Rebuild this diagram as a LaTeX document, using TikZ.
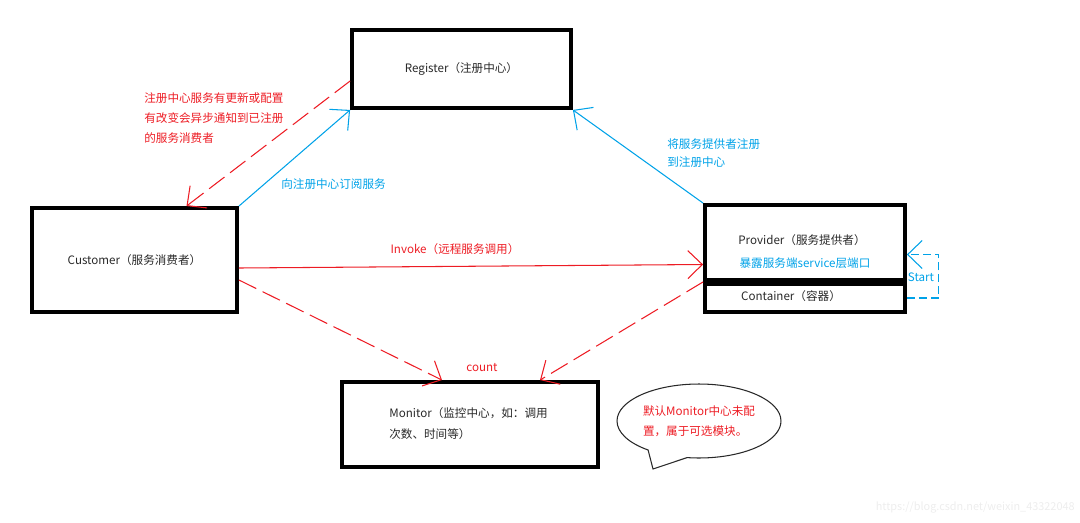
\documentclass[tikz,border=0pt]{standalone}
\usepackage{fontspec}
\setmainfont{Noto Sans CJK SC}
\usetikzlibrary{arrows.meta,calc,shapes.callouts}
\definecolor{paintred}{RGB}{237,28,36}
\definecolor{paintblue}{RGB}{0,162,232}
\definecolor{inkgray}{RGB}{40,40,40}

\begin{document}
\begin{tikzpicture}[x=0.02cm,y=-0.02cm,
  box/.style={draw,line width=2.2pt,inner sep=0pt,text=inkgray,font=\fontsize{6.6}{11.5}\selectfont},
  txt/.style={inner sep=0pt,font=\fontsize{6.6}{11.5}\selectfont},
  barb/.style={-{Straight Barb[length=2.9mm,width=5.6mm]}},
  subline/.style={paintblue,line width=0.6pt,barb},
  pushline/.style={paintred,line width=0.6pt,dash pattern=on 11pt off 4pt,barb},
  callline/.style={paintred,line width=0.6pt,barb},
  startline/.style={paintblue,line width=0.6pt,dash pattern=on 4.5pt off 2.3pt,barb}]
\useasboundingbox (0,0) rectangle (1080,522);
\node[box,minimum width=4.38cm,minimum height=1.56cm] (reg) at (461.5,69) {Register（注册中心）};
\node[box,minimum width=4.1cm,minimum height=2.08cm] (cust) at (134.5,260) {Customer（服务消费者）};
\node[box,minimum width=4cm,minimum height=1.5cm] (prov) at (805,242.5) {};
\node[box,minimum width=4cm,minimum height=0.56cm] (cont) at (805,298) {};
\node[box,minimum width=5.12cm,minimum height=1.7cm] (mon) at (470,424.5) {};
\node[txt,text=inkgray] (provtxt) at (802,240) {Provider（服务提供者）};
\node[txt,text=paintblue] (exposetxt) at (805,263) {暴露服务端service层端口};
\node[txt,text=inkgray] (conttxt) at (791,296) {Container（容器）};
\node[txt,text=inkgray,anchor=west,align=left,font=\fontsize{6.6}{11.9}\selectfont] (montxt) at (389,423.5) {Monitor（监控中心，如：调用\\次数、时间等）};
\node[ellipse callout,draw=inkgray,line width=0.6pt,minimum width=3.28cm,minimum height=1.48cm,
  inner sep=0pt,callout absolute pointer={(653,469)},callout pointer arc=30,
  txt,text=paintred,align=left] (remark) at (699,421) {默认Monitor中心未配\\置，属于可选模块。};
\draw[subline] (cust.north east) -- (reg.south west);
\draw[subline] (prov.north west) -- (reg.south east);
\draw[pushline] ($(reg.west)+(0,12)$) -- ($(cust.north)+(52,0)$);
\draw[callline] ($(cust.east)+(0,8)$) -- ($(prov.west)+(0,22)$);
\draw[pushline] ($(cust.east)+(0,20)$) -- ($(mon.north)+(-28,0)$);
\draw[pushline] (prov.south west) -- ($(mon.north)+(70,0)$);
\draw[startline] (cont.east) -- ++(32,0) |- ($(prov.east)+(0,12)$);
\node[txt,text=paintred,anchor=west,align=left] (notifylbl) at (144,118) {注册中心服务有更新或配置\\有改变会异步通知到已注册\\的服务消费者};
\node[txt,text=paintblue,anchor=west] (sublbl) at (281,184) {向注册中心订阅服务};
\node[txt,text=paintblue,anchor=west,align=left,font=\fontsize{6.6}{10.2}\selectfont] (reglbl) at (667,153) {将服务提供者注册\\到注册中心};
\node[txt,text=paintred] (invokelbl) at (455,249) {Invoke（远程服务调用）};
\node[txt,text=paintred] (countlbl) at (482,368) {count};
\node[txt,text=paintblue] (startlbl) at (921,277) {Start};
\node[txt,text=black!7,anchor=east,font=\fontsize{6.2}{8}\selectfont] (mark) at (1075,508) {https://blog.csdn.net/weixin\_43322048};
\end{tikzpicture}
\end{document}
